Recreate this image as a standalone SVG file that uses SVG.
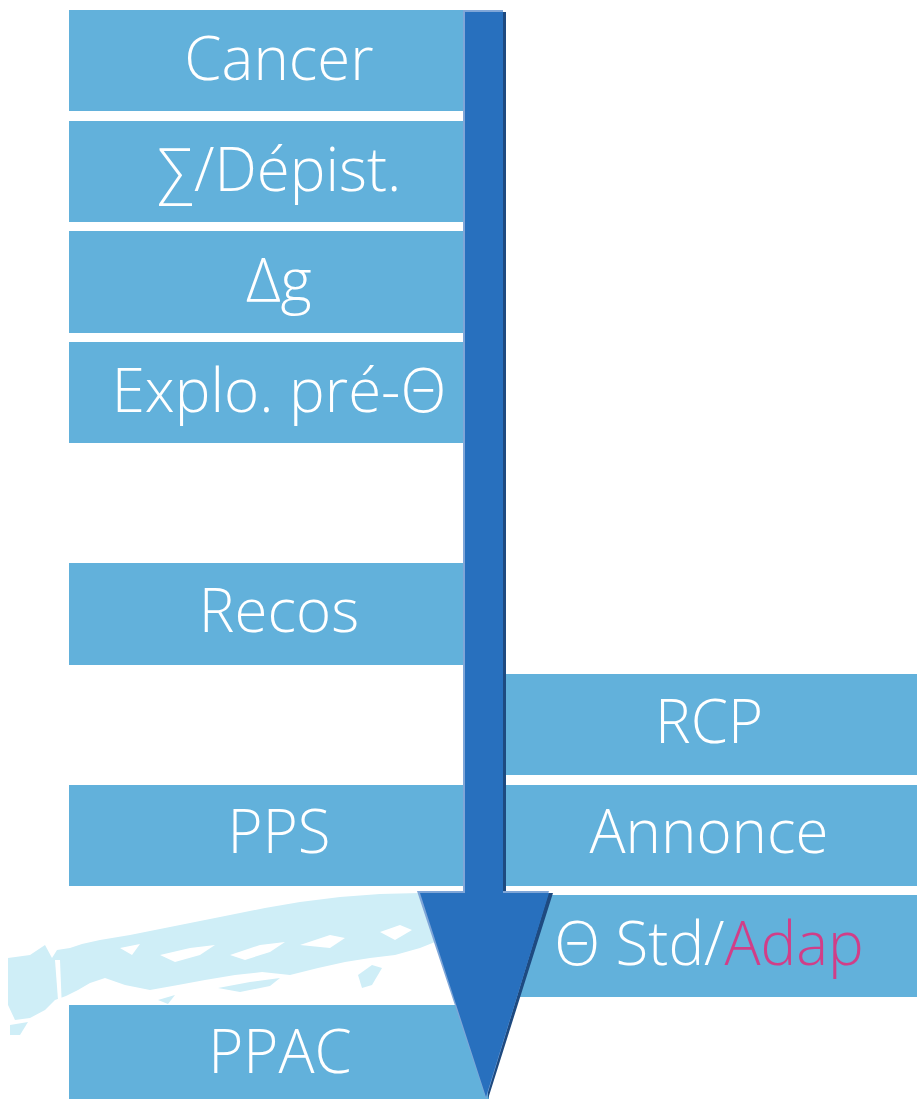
<svg xmlns="http://www.w3.org/2000/svg" width="917" height="1099" viewBox="0 0 917 1099">
<style>
.box{fill:#62B1DB}
.t{fill:#FFFFFF;font-family:"Open Sans","DejaVu Sans",sans-serif;font-weight:300;font-size:60px;text-anchor:middle}
.brush{fill:#CFEEF7}
.hole{fill:#FFFFFF}
</style>
<rect width="917" height="1099" fill="#FFFFFF"/>
<g id="brush">
<path class="brush" d="M8,958 L30,955 L45,945 L52,958 L57,950 L70,948 L82,944 L100,940 L130,935 L160,929 L195,922 L230,915 L265,908 L300,902 L340,897 L380,894 L420,893 L440,895 L440,940 L420,948 L395,955 L370,958 L345,962 L318,968 L290,975 L262,972 L235,975 L205,980 L178,985 L150,990 L125,985 L105,978 L90,983 L78,990 L66,996 L55,1000 L45,1010 L30,1018 L15,1020 L8,1005 Z"/>
<path class="hole" d="M55,960 L58,1000 L62,1010 L60,960 Z"/>
<path class="hole" d="M160,955 L190,948 L215,945 L200,955 L175,962 Z"/>
<path class="hole" d="M230,955 L260,945 L285,942 L270,952 L245,960 Z"/>
<path class="hole" d="M300,945 L330,935 L345,938 L330,948 Z"/>
<path class="hole" d="M120,948 L140,944 L132,955 Z"/>
<path class="hole" d="M380,932 L400,925 L412,930 L395,940 Z"/>
<path class="brush" d="M218,988 L250,982 L280,978 L270,986 L240,992 Z"/>
<path class="brush" d="M158,1000 L175,995 L168,1004 Z"/>
<path class="brush" d="M358,975 L372,965 L382,968 L372,985 L362,988 Z"/>
<path class="brush" d="M10,1025 L28,1022 L20,1035 L10,1035 Z"/>
</g>
<g id="cancer"><rect class="box" x="69" y="10" width="397" height="101"/><text class="t" x="279" y="80">Cancer</text></g>
<g id="depist"><rect class="box" x="69" y="121" width="397" height="101"/><text class="t" x="279" y="191">∑/Dépist.</text></g>
<g id="dg"><rect class="box" x="69" y="231" width="397" height="102"/><text class="t" x="279" y="302">Δg</text></g>
<g id="explo"><rect class="box" x="69" y="342" width="397" height="101"/><text class="t" x="279" y="412">Explo. pré-Θ</text></g>
<g id="recos"><rect class="box" x="69" y="563" width="397" height="102"/><text class="t" x="279" y="632">Recos</text></g>
<g id="pps"><rect class="box" x="69" y="785" width="397" height="101"/><text class="t" x="279" y="853">PPS</text></g>
<g id="ppac"><rect class="box" x="69" y="1005" width="420" height="94"/><text class="t" x="280" y="1073">PPAC</text></g>
<g id="rcp"><rect class="box" x="504" y="674" width="413" height="101"/><text class="t" x="709" y="743">RCP</text></g>
<g id="annonce"><rect class="box" x="504" y="785" width="413" height="101"/><text class="t" x="709" y="853">Annonce</text></g>
<g id="theta"><rect class="box" x="504" y="895" width="413" height="102"/><text class="t" x="709" y="965">Θ Std/<tspan fill="#D13E88">Adap</tspan></text></g>
<g id="connectors">
<path d="M466,12 L506,12 L506,893 L553,893 L488,1099 Z" fill="#1E4A80"/>
<path d="M463,10 L503,10 L503,891 L549,891 L486,1099 L417,891 L463,891 Z" fill="#7FA6D8"/>
<path d="M465,12 L503,12 L503,893 L549,893 L486,1097 L420,893 L465,893 Z" fill="#2870BE"/>
</g>
</svg>
